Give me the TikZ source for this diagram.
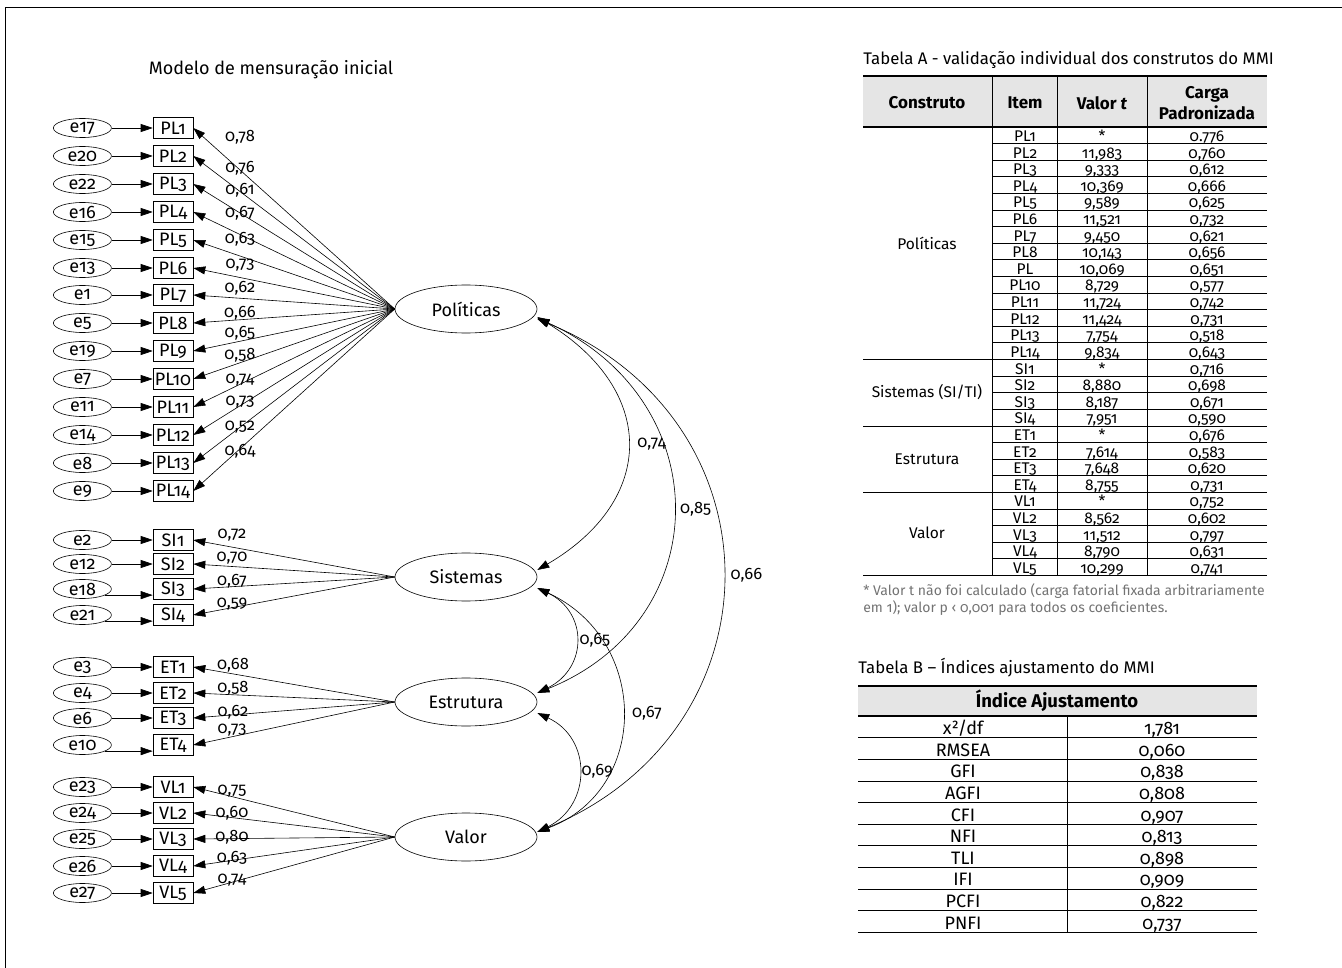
\documentclass[tikz,border=0pt]{standalone}
\usepackage{fontspec}
\setmainfont{Fira Sans}[Numbers=OldStyle]
\usetikzlibrary{positioning,arrows.meta,calc,shapes.geometric}
\definecolor{hdrgray}{gray}{0.9}
\definecolor{notegray}{gray}{0.45}

\begin{document}
\begin{tikzpicture}[x=1pt,y=-1pt,>={Triangle[length=12pt,width=8pt]},line width=0.6pt,
  node distance=41pt,font=\fontsize{18}{21}\selectfont,
  errnode/.style={ellipse,draw,minimum width=58pt,minimum height=19pt,inner sep=0pt},
  itemnode/.style={draw,minimum width=40pt,minimum height=21pt,inner sep=0pt},
  latent/.style={ellipse,draw,minimum width=142pt,minimum height=48pt,inner sep=0pt},
  coef/.style={inner sep=1pt,font=\fontsize{16.5}{18}\selectfont},
  cell/.style={anchor=base,inner sep=0pt,font=\fontsize{15.5}{17}\selectfont},
  grp/.style={font=\fontsize{15.5}{17}\selectfont},
  caption/.style={anchor=west,inner sep=0pt,font=\fontsize{16.8}{19}\selectfont},
  hdr/.style={font=\fontsize{17}{21}\selectfont\bfseries,align=center},
  rule/.style={line width=1.4pt}]
\useasboundingbox (0,0) rectangle (1342,968);
\draw (5,968) -- (5,7) -- (1342,7);

% modelo de mensuracao
\node (title) at (271,70) {Modelo de mensuração inicial};
\node[latent] (pol) at (466,309) {Políticas};
\node[latent] (sis) at (466,577) {Sistemas};
\node[latent] (est) at (466,702) {Estrutura};
\node[latent] (val) at (466,837) {Valor};

\foreach \itm/\e/\y/\ang/\lat/\cf/\lx/\ly in {
  PL1/17/128/0/pol/{0,78}/240/137, PL2/20/156/0/pol/{0,76}/240/168,
  PL3/22/184/0/pol/{0,61}/240/190, PL4/16/212/0/pol/{0,67}/240/213,
  PL5/15/240/0/pol/{0,63}/240/239, PL6/13/268/0/pol/{0,73}/240/265,
  PL7/1/295/0/pol/{0,62}/240/288, PL8/5/323/0/pol/{0,66}/240/313,
  PL9/19/351/0/pol/{0,65}/240/333, PL10/7/379/0/pol/{0,58}/240/355,
  PL11/11/407/0/pol/{0,74}/240/380, PL12/14/435/0/pol/{0,73}/240/402,
  PL13/8/463/0/pol/{0,52}/240/427, PL14/9/491/0/pol/{0,64}/240/451,
  SI1/2/540/0/sis/{0,72}/232/535, SI2/12/564/0/sis/{0,70}/232/558,
  SI3/18/589/-15/sis/{0,67}/232/581, SI4/21/615/-15/sis/{0,59}/232/604,
  ET1/3/667/0/est/{0,68}/233/665, ET2/4/693/0/est/{0,58}/233/688,
  ET3/6/718/0/est/{0,62}/233/712, ET4/10/745/-15/est/{0,73}/232/730,
  VL1/23/787/0/val/{0,75}/232/791, VL2/24/813/0/val/{0,60}/232/813,
  VL3/25/839/0/val/{0,80}/232/837, VL4/26/866/0/val/{0,63}/232/858,
  VL5/27/893/0/val/{0,74}/232/880}
{
  \node[itemnode] (\itm) at (173,\y) {\itm};
  \node[errnode,left=of \itm] (e\e) {e\e};
  \draw[->] (e\e.\ang) -- (e\e.\ang -| \itm.west);
  \draw[->] (\lat.west) -- (\itm.east);
  \node[coef] (c\itm) at (\lx,\ly) {\cf};
}

% correlacoes
\draw[<->] ([yshift=-8pt]pol.east) .. controls (657,390) and (657,500) .. ([yshift=7pt]sis.east)
  node[coef,pos=0.5,right=9pt] (r74) {0,74};
\draw[<->] ([yshift=-9pt]pol.east) .. controls (718,400) and (718,620) .. ([yshift=9pt]est.east)
  node[coef,pos=0.5,right=6pt] (r85) {0,85};
\draw[<->] ([yshift=-10pt]pol.east) .. controls (784,420) and (784,730) .. ([yshift=5pt]val.east)
  node[coef,pos=0.5,right=7pt] (r66) {0,66};
\draw[<->] ([yshift=-11pt]sis.east) .. controls (588,612) and (588,668) .. ([yshift=9pt]est.east)
  node[coef,pos=0.5,right=3pt] (r65) {0,65};
\draw[<->] ([yshift=-11pt]sis.east) .. controls (650,640) and (650,790) .. ([yshift=5pt]val.east)
  node[coef,pos=0.5,right=9pt] (r67) {0,67};
\draw[<->] ([yshift=-11pt]est.east) .. controls (592,738) and (592,805) .. ([yshift=5pt]val.east)
  node[coef,pos=0.5,right=2pt] (r69) {0,69};

% tabela A
\node[caption] (tabA) at (863,60) {Tabela A - validação individual dos construtos do MMI};
\fill[hdrgray] (863,76) rectangle (1267,127);
\foreach \xx in {992,1057,1147} \draw (\xx,76) -- (\xx,575.2);
\draw[rule] (863,76) -- (1267,76);
\draw[rule] (863,127) -- (1267,127);
\node[hdr] (hA1) at (927,103) {Construto};
\node[hdr] (hA2) at (1025,103) {Item};
\node[hdr] (hA3) at (1102,103) {Valor \textit{t}};
\node[hdr] (hA4) at (1207,103) {Carga\\Padronizada};
\foreach \itm/\tv/\ld [count=\r] in {PL1/*/{0.776}, PL2/{11,983}/{0,760}, PL3/{9,333}/{0,612},
  PL4/{10,369}/{0,666}, PL5/{9,589}/{0,625}, PL6/{11,521}/{0,732}, PL7/{9,450}/{0,621},
  PL8/{10,143}/{0,656}, PL/{10,069}/{0,651}, PL10/{8,729}/{0,577}, PL11/{11,724}/{0,742},
  PL12/{11,424}/{0,731}, PL13/{7,754}/{0,518}, PL14/{9,834}/{0,643},
  SI1/*/{0,716}, SI2/{8,880}/{0,698}, SI3/{8,187}/{0,671}, SI4/{7,951}/{0,590},
  ET1/*/{0,676}, ET2/{7,614}/{0,583}, ET3/{7,648}/{0,620}, ET4/{8,755}/{0,731},
  VL1/*/{0,752}, VL2/{8,562}/{0,602}, VL3/{11,512}/{0,797}, VL4/{8,790}/{0,631},
  VL5/{10,299}/{0,741}}
{
  \pgfmathsetmacro\yb{127+16.6*\r}
  \draw (992,\yb) -- (1267,\yb);
  \node[cell] (iA\r) at (1025,\yb-2) {\itm};
  \node[cell] (tA\r) at (1102,\yb-2) {\tv};
  \node[cell] (lA\r) at (1207,\yb-2) {\ld};
}
\foreach \yy in {359.4,425.8,492.2,575.2} \draw (863,\yy) -- (1267,\yy);
\node[grp] (gPol) at (927,243) {Políticas};
\node[grp] (gSis) at (927,392) {Sistemas (SI/TI)};
\node[grp] (gEst) at (927,459) {Estrutura};
\node[grp] (gVal) at (927,533) {Valor};
\node[anchor=north west,inner sep=0pt,align=left,text=notegray,font=\fontsize{14}{17}\selectfont] (nota) at (863,583)
  {* Valor t não foi calculado (carga fatorial fixada arbitrariamente\\em 1); valor p ‹ 0,001 para todos os coeficientes.};

% tabela B
\node[caption] (tabB) at (858,668) {Tabela B – Índices ajustamento do MMI};
\fill[hdrgray] (858,686) rectangle (1257,716);
\draw[rule] (858,686) -- (1257,686);
\draw[rule] (858,716) -- (1257,716);
\node[hdr,font=\fontsize{18.5}{21}\selectfont\bfseries] (hB) at (1057,701) {Índice Ajustamento};
\draw (1067,716) -- (1067,932);
\foreach \ix/\vl [count=\r] in {{x²/df}/{1,781}, RMSEA/{0,060}, GFI/{0,838}, AGFI/{0,808}, CFI/{0,907},
  NFI/{0,813}, TLI/{0,898}, IFI/{0,909}, PCFI/{0,822}, PNFI/{0,737}}
{
  \pgfmathsetmacro\yb{716+21.6*\r}
  \draw (858,\yb) -- (1257,\yb);
  \node[cell,font=\fontsize{18}{20}\selectfont] (iB\r) at (963,\yb-3) {\ix};
  \node[cell,font=\fontsize{18}{20}\selectfont] (vB\r) at (1162,\yb-3) {\vl};
}
\end{tikzpicture}
\end{document}
